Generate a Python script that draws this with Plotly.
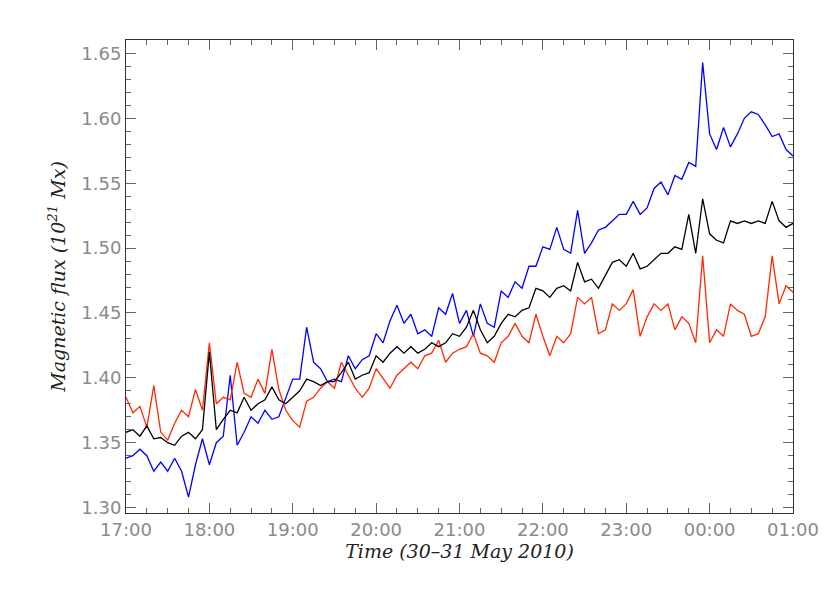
import pandas as pd
import plotly.graph_objects as go

start = "2010-05-30 17:00"
step = "5min"

blue = [1.338,1.340,1.345,1.340,1.328,1.335,1.328,1.338,1.328,1.308,1.333,1.353,
        1.333,1.350,1.355,1.402,1.348,1.358,1.370,1.365,1.375,1.368,1.370,1.385,
        1.399,1.399,1.439,1.412,1.407,1.397,1.399,1.397,1.417,1.407,1.414,1.417,
        1.434,1.427,1.444,1.456,1.442,1.449,1.434,1.437,1.432,1.454,1.449,1.465,
        1.442,1.452,1.432,1.457,1.442,1.439,1.467,1.462,1.474,1.469,1.486,1.486,
        1.501,1.499,1.516,1.499,1.496,1.529,1.496,1.504,1.514,1.516,1.521,1.526,
        1.526,1.536,1.526,1.531,1.546,1.551,1.541,1.556,1.553,1.566,1.563,1.643,
        1.588,1.576,1.593,1.578,1.588,1.600,1.605,1.603,1.595,1.586,1.588,1.576,
        1.571]
red = [1.385,1.373,1.378,1.362,1.394,1.358,1.352,1.365,1.375,1.370,1.391,1.375,
       1.427,1.380,1.385,1.383,1.412,1.388,1.385,1.399,1.388,1.422,1.391,1.375,
       1.367,1.362,1.382,1.385,1.392,1.397,1.392,1.412,1.402,1.392,1.385,1.392,
       1.407,1.399,1.392,1.402,1.407,1.412,1.407,1.417,1.419,1.429,1.412,1.419,
       1.422,1.424,1.434,1.419,1.417,1.412,1.427,1.432,1.442,1.432,1.427,1.449,
       1.432,1.417,1.432,1.427,1.434,1.462,1.457,1.462,1.434,1.437,1.457,1.452,
       1.457,1.468,1.432,1.447,1.457,1.452,1.457,1.437,1.447,1.442,1.427,1.494,
       1.427,1.437,1.432,1.457,1.452,1.449,1.432,1.434,1.447,1.494,1.457,1.471,
       1.466]
black = [1.358,1.360,1.355,1.363,1.353,1.354,1.350,1.348,1.355,1.358,1.353,1.360,
         1.420,1.360,1.368,1.375,1.373,1.385,1.375,1.380,1.383,1.393,1.383,1.380,
         1.385,1.390,1.399,1.397,1.394,1.397,1.397,1.404,1.412,1.399,1.402,1.404,
         1.417,1.412,1.419,1.424,1.419,1.424,1.419,1.422,1.427,1.424,1.427,1.434,
         1.432,1.439,1.452,1.437,1.427,1.432,1.442,1.449,1.447,1.452,1.454,1.469,
         1.467,1.462,1.469,1.471,1.467,1.489,1.474,1.476,1.469,1.479,1.489,1.491,
         1.486,1.496,1.484,1.486,1.491,1.496,1.496,1.501,1.499,1.526,1.496,1.538,
         1.511,1.506,1.504,1.521,1.519,1.521,1.519,1.521,1.519,1.536,1.521,1.516,
         1.519]

x_labels = ["17:00","18:00","19:00","20:00","21:00","22:00","23:00","00:00","01:00"]
y_ticks = [1.30,1.35,1.40,1.45,1.50,1.55,1.60,1.65]

t = pd.date_range(start, periods=len(blue), freq=step)

fig = go.Figure()
for ys, col in [(blue, "#0000ff"), (red, "#ff2a00"), (black, "#000000")]:
    fig.add_trace(go.Scatter(x=t, y=ys, mode="lines",
                             line=dict(color=col, width=1.3), showlegend=False))

tickvals = pd.date_range(start, periods=len(x_labels), freq="1h")
axis_common = dict(showgrid=False, zeroline=False, showline=True, linecolor="#333",
                   linewidth=1, mirror="ticks", ticks="inside", tickcolor="#666",
                   tickfont=dict(family="DejaVu Sans", size=18, color="#8a8a8a"))
fig.update_xaxes(range=[t[0], t[-1]], tickvals=tickvals, ticktext=x_labels,
                 ticklen=10,
                 minor=dict(ticks="inside", ticklen=5, dtick=15*60*1000, tickcolor="#666"),
                 title=dict(text="Time (30–31 May 2010)", standoff=6,
                            font=dict(family="DejaVu Serif", size=19, color="#222", style="italic")),
                 **axis_common)
fig.update_yaxes(range=[1.2958, 1.6604], tickvals=y_ticks,
                 ticktext=[f"{v:.2f}" for v in y_ticks], ticklen=10,
                 minor=dict(ticks="inside", ticklen=5, dtick=0.01, tickcolor="#666"),
                 title=dict(text="Magnetic flux (10<sup>21</sup> Mx)", standoff=10,
                            font=dict(family="DejaVu Serif", size=19, color="#222", style="italic")),
                 **axis_common)
fig.update_layout(width=830, height=593, plot_bgcolor="white", paper_bgcolor="white",
                  margin=dict(l=118, r=45, t=32, b=88))
fig.write_html("out.html")
